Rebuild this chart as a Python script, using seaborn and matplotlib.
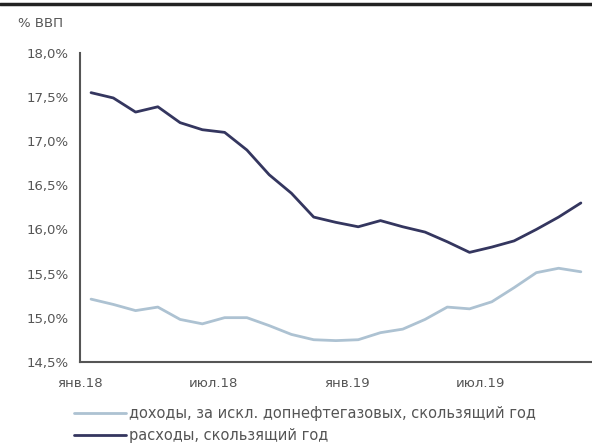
import matplotlib
matplotlib.use("Agg")
import matplotlib.pyplot as plt
import matplotlib.ticker as mticker
from matplotlib.lines import Line2D
import numpy as np
import pandas as pd
import seaborn as sns

months = ["янв.18", "фев.18", "мар.18", "апр.18", "май.18", "июн.18", "июл.18", "авг.18",
          "сен.18", "окт.18", "ноя.18", "дек.18", "янв.19", "фев.19", "мар.19", "апр.19",
          "май.19", "июн.19", "июл.19", "авг.19", "сен.19", "окт.19", "ноя.19"]
revenues = [15.21, 15.15, 15.08, 15.12, 14.98, 14.93, 15.00, 15.00, 14.91, 14.81, 14.75, 14.74,
            14.75, 14.83, 14.87, 14.98, 15.12, 15.10, 15.18, 15.34, 15.51, 15.56, 15.52]
expenses = [17.55, 17.49, 17.33, 17.39, 17.21, 17.13, 17.10, 16.90, 16.62, 16.41, 16.14, 16.08,
            16.03, 16.10, 16.03, 15.97, 15.86, 15.74, 15.80, 15.87, 16.00, 16.14, 16.30]
series_names = ["доходы, за искл. допнефтегазовых, скользящий год", "расходы, скользящий год"]
tick_labels = ["янв.18", "июл.18", "янв.19", "июл.19"]
y_ticks = [14.5, 15.0, 15.5, 16.0, 16.5, 17.0, 17.5, 18.0]

sns.set_style("white")
plt.rcParams["font.family"] = ["DejaVu Sans"]

n = len(months)
df = pd.DataFrame({
    "pos": list(np.arange(n) + 0.5) * 2,
    "value": revenues + expenses,
    "series": [series_names[0]] * n + [series_names[1]] * n,
})

fig = plt.figure(figsize=(5.92, 4.45), dpi=100)
ax = fig.add_axes([0.135, 0.187, 0.865, 0.694])

palette = {series_names[0]: "#adc2d2", series_names[1]: "#34365f"}
sns.lineplot(data=df, x="pos", y="value", hue="series", palette=palette, ax=ax,
             linewidth=2.0, legend=False)

ax.set_xlim(0, n)
ax.set_ylim(14.5, 18.0)
ax.set_yticks(y_ticks)
ax.yaxis.set_major_formatter(mticker.FuncFormatter(lambda v, p: f"{v:.1f}%".replace(".", ",")))
ax.set_xticks([0, 6, 12, 18])
ax.set_xticklabels(tick_labels)
ax.set_xlabel("")
ax.set_ylabel("")

for s in ["top", "right"]:
    ax.spines[s].set_visible(False)
for s in ["left", "bottom"]:
    ax.spines[s].set_color("#555555")
    ax.spines[s].set_linewidth(1.5)
ax.tick_params(axis="both", which="both", direction="out", length=3, width=1,
               color="#777777", labelcolor="#555555", labelsize=9.5)
ax.tick_params(axis="x", pad=8)
ax.tick_params(axis="y", pad=5)

fig.text(0.03, 0.948, "% ВВП", fontsize=9.5, color="#555555", va="center")

handles = [Line2D([], [], color=palette[s], linewidth=2.0) for s in series_names]
fig.legend(handles, series_names, loc="lower left", bbox_to_anchor=(0.115, -0.008),
           frameon=False, fontsize=10.5, labelcolor="#555555", handlelength=3.6,
           handletextpad=0.15, labelspacing=0.45, borderaxespad=0)

fig.add_artist(Line2D([0, 1], [0.99, 0.99], transform=fig.transFigure,
                      color="#222222", linewidth=2.5))

fig.savefig("out.png", dpi=100)
